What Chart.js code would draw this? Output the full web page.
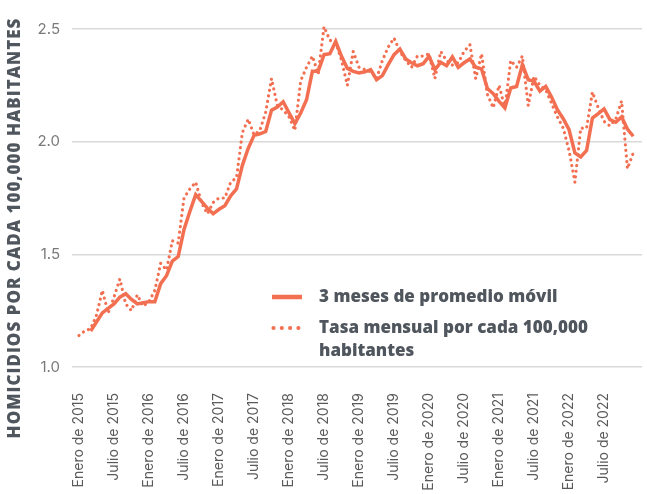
<!DOCTYPE html>
<html lang="es">
<head>
<meta charset="UTF-8">
<title>Homicidios por cada 100,000 habitantes</title>
<script src="https://cdn.jsdelivr.net/npm/chart.js"></script>
<style>
  html, body { margin: 0; padding: 0; background: #fff; }
  #wrap { width: 647px; height: 494px; position: relative; }
</style>
</head>
<body>
<div id="wrap"><canvas id="grafico" width="647" height="494"></canvas></div>
<script>
// etiquetas del eje x (una por mes, enero 2015 - diciembre 2022)
const nombresMes = ["Enero", "Febrero", "Marzo", "Abril", "Mayo", "Junio", "Julio",
  "Agosto", "Septiembre", "Octubre", "Noviembre", "Diciembre"];
const anios = [2015, 2016, 2017, 2018, 2019, 2020, 2021, 2022];
const meses = [];
anios.forEach(a => nombresMes.forEach(m => meses.push(m + " de " + a)));

// tasa mensual por cada 100,000 habitantes
const tasaMensual = [
  1.14, 1.16, 1.17, 1.23, 1.34, 1.24, 1.31, 1.39, 1.28, 1.25, 1.32, 1.27,
  1.29, 1.34, 1.46, 1.43, 1.56, 1.55, 1.75, 1.79, 1.82, 1.73, 1.68, 1.73,
  1.75, 1.75, 1.82, 1.84, 2.04, 2.10, 2.03, 2.05, 2.13, 2.28, 2.16, 2.14,
  2.11, 2.05, 2.27, 2.33, 2.38, 2.30, 2.51, 2.45, 2.44, 2.36, 2.25, 2.40,
  2.33, 2.32, 2.31, 2.28, 2.36, 2.42, 2.46, 2.40, 2.36, 2.33, 2.38, 2.38,
  2.39, 2.28, 2.40, 2.36, 2.34, 2.35, 2.40, 2.43, 2.28, 2.39, 2.21, 2.15,
  2.25, 2.15, 2.36, 2.33, 2.38, 2.16, 2.29, 2.25, 2.23, 2.17, 2.11, 2.06,
  1.96, 1.82, 2.06, 2.06, 2.22, 2.15, 2.09, 2.07, 2.10, 2.18, 1.88, 1.95
];

// promedio movil de 3 meses
const promedioMovil = [
  null, null, 1.16, 1.20, 1.24, 1.26, 1.28, 1.31, 1.325, 1.30, 1.28, 1.285,
  1.29, 1.29, 1.37, 1.405, 1.47, 1.49, 1.61, 1.69, 1.765, 1.735, 1.705, 1.68,
  1.70, 1.716, 1.76, 1.79, 1.895, 1.97, 2.028, 2.035, 2.045, 2.14, 2.154, 2.177,
  2.128, 2.08, 2.127, 2.186, 2.312, 2.312, 2.386, 2.39, 2.445, 2.379, 2.325, 2.312,
  2.305, 2.31, 2.32, 2.275, 2.293, 2.342, 2.386, 2.411, 2.367, 2.35, 2.337, 2.346,
  2.379, 2.32, 2.352, 2.337, 2.376, 2.33, 2.35, 2.367, 2.33, 2.323, 2.236, 2.213,
  2.179, 2.15, 2.238, 2.245, 2.342, 2.275, 2.268, 2.224, 2.245, 2.198, 2.142, 2.102,
  2.053, 1.95, 1.932, 1.961, 2.105, 2.124, 2.145, 2.098, 2.086, 2.11, 2.056, 2.024
];

const yTicks = [1.0, 1.5, 2.0, 2.5];
const tituloY = "HOMICIDIOS POR CADA 100,000 HABITANTES";
const leyenda = ["3 meses de promedio móvil", ["Tasa mensual por cada 100,000", "habitantes"]];

const naranja = "#f36f51";
const grisTexto = "#50565d";

// titulo del eje y y leyenda dibujados a mano
const extras = {
  id: "extras",
  afterDraw(chart) {
    const ctx = chart.ctx;
    ctx.save();
    // titulo vertical
    ctx.translate(15, 228);
    ctx.rotate(-Math.PI / 2);
    ctx.fillStyle = grisTexto;
    ctx.font = "800 17px 'Open Sans'";
    ctx.letterSpacing = "1px";
    ctx.textAlign = "center";
    ctx.textBaseline = "middle";
    ctx.fillText(tituloY, 0, 0);
    ctx.restore();

    ctx.save();
    // linea solida
    ctx.strokeStyle = naranja;
    ctx.lineWidth = 4.5;
    ctx.beginPath();
    ctx.moveTo(272, 297);
    ctx.lineTo(302, 297);
    ctx.stroke();
    // puntos
    ctx.fillStyle = naranja;
    [273.5, 281.8, 290.1, 298.4].forEach(px => {
      ctx.beginPath();
      ctx.arc(px, 328, 2.1, 0, Math.PI * 2);
      ctx.fill();
    });
    ctx.fillStyle = grisTexto;
    ctx.font = "800 17px 'Open Sans'";
    ctx.textBaseline = "middle";
    ctx.fillText(leyenda[0], 319, 297);
    ctx.fillText(leyenda[1][0], 319, 328);
    ctx.fillText(leyenda[1][1], 319, 351);
    ctx.restore();
  }
};

new Chart(document.getElementById("grafico"), {
  type: "line",
  data: {
    datasets: [
      {
        label: leyenda[0],
        data: promedioMovil.map((v, i) => ({ x: i, y: v })),
        borderColor: naranja,
        borderWidth: 3.5,
        pointRadius: 0,
        tension: 0,
        clip: false
      },
      {
        label: leyenda[1].join(" "),
        data: tasaMensual.map((v, i) => ({ x: i, y: v })),
        borderColor: naranja,
        borderWidth: 3.2,
        borderDash: [0.01, 5.6],
        borderCapStyle: "round",
        pointRadius: 0,
        tension: 0,
        clip: false
      }
    ]
  },
  options: {
    responsive: false,
    animation: false,
    layout: { padding: { top: 29, right: 5, left: 0, bottom: 0 } },
    plugins: { legend: { display: false }, tooltip: { enabled: false } },
    scales: {
      x: {
        type: "linear",
        min: -1.2,
        max: 96.5,
        grid: { display: false },
        border: { display: false },
        afterBuildTicks: s => { s.ticks = meses.map((m, i) => i).filter(i => i % 6 === 0).map(i => ({ value: i })); },
        afterFit: s => { s.height = 127; },
        ticks: {
          autoSkip: false,
          minRotation: 90,
          maxRotation: 90,
          padding: 18,
          color: "#5a5a5a",
          font: { family: "Inter", size: 14 },
          callback: v => meses[v]
        }
      },
      y: {
        min: 1.0,
        max: 2.5,
        afterBuildTicks: s => { s.ticks = yTicks.map(v => ({ value: v })); },
        afterFit: s => { s.width = 72; },
        grid: { color: "#d9d9d9", lineWidth: 1.5, drawTicks: false },
        border: { display: false },
        ticks: {
          padding: 12,
          color: "#7a7a7a",
          font: { family: "Inter", size: 15 },
          callback: v => v.toFixed(1)
        }
      }
    }
  },
  plugins: [extras]
});
</script>
</body>
</html>
